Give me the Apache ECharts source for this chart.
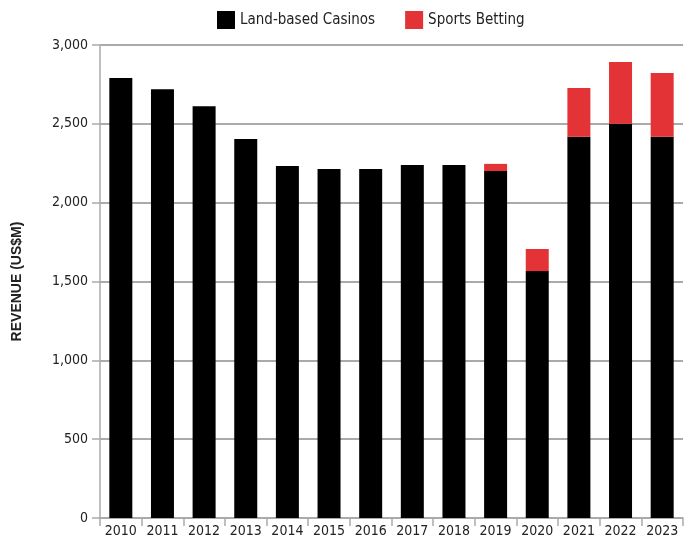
<!DOCTYPE html>
<html>
<head>
<meta charset="utf-8">
<script src="https://cdn.jsdelivr.net/npm/echarts@6/dist/echarts.min.js"></script>
<style>
  html, body { margin: 0; padding: 0; background: #fff; }
  #chart { width: 695px; height: 544px; }
</style>
</head>
<body>
<div id="chart"></div>
<script>
// data
var years = ["2010", "2011", "2012", "2013", "2014", "2015", "2016", "2017", "2018", "2019", "2020", "2021", "2022", "2023"];
var landCasinos = [2790, 2720, 2612, 2404, 2232, 2213, 2213, 2239, 2239, 2201, 1566, 2418, 2500, 2418];
var sportsBetting = [0, 0, 0, 0, 0, 0, 0, 0, 0, 45, 140, 310, 392, 405];
var yTicks = [0, 500, 1000, 1500, 2000, 2500, 3000];

(function() {
  var myChart = echarts.init(document.getElementById("chart"));
  var font = "'DejaVu Sans Condensed', 'Liberation Sans Narrow', sans-serif";
  var gray = "#aaa";

  var option = {
    animation: false,
    textStyle: { fontFamily: font },
    legend: {
      top: 6,
      left: 212,
      itemWidth: 18,
      itemHeight: 18,
      itemGap: 30,
      icon: "rect",
      textStyle: { fontSize: 15, color: "#222", fontFamily: font },
      data: ["Land-based Casinos", "Sports Betting"]
    },
    grid: { left: 100, right: 12, top: 45, bottom: 26 },
    xAxis: {
      type: "category",
      data: years,
      axisLine: { lineStyle: { color: gray, width: 1.5 } },
      axisTick: { show: true, length: 8, lineStyle: { color: gray, width: 1.5 } },
      axisLabel: { interval: 0, color: "#222", fontSize: 14, margin: 6, fontFamily: font }
    },
    yAxis: {
      type: "value",
      min: yTicks[0],
      max: yTicks[yTicks.length - 1],
      interval: 500,
      name: "REVENUE (US$M)",
      nameLocation: "middle",
      nameGap: 76,
      nameTextStyle: { fontSize: 14, fontWeight: "bold", color: "#222", fontFamily: "'Liberation Sans', sans-serif" },
      axisLine: { show: true, lineStyle: { color: gray, width: 1.5 } },
      axisTick: { show: true, length: 8, lineStyle: { color: gray, width: 1.5 } },
      axisLabel: {
        color: "#222", fontSize: 14, margin: 12, fontFamily: font,
        formatter: function(v) { return v.toLocaleString("en-US"); }
      },
      splitLine: { lineStyle: { color: gray, width: 2 } }
    },
    series: [
      {
        name: "Land-based Casinos",
        type: "bar",
        stack: "rev",
        barWidth: 23,
        itemStyle: { color: "#000" },
        data: landCasinos
      },
      {
        name: "Sports Betting",
        type: "bar",
        stack: "rev",
        barWidth: 23,
        itemStyle: { color: "#e33336" },
        data: sportsBetting
      }
    ]
  };

  myChart.setOption(option);
})();
</script>
</body>
</html>
